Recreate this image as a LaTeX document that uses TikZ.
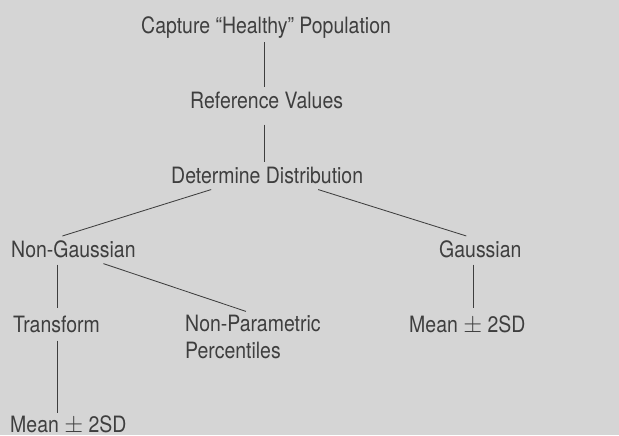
\documentclass[tikz,border=0pt]{standalone}
\usepackage{fontspec}
\setmainfont{TeX Gyre Heros}[FakeStretch=0.865]
\usepackage{xcolor}
\usepackage{tikz}
\usetikzlibrary{positioning,calc}
\definecolor{paper}{RGB}{213,213,213}
\definecolor{ink}{RGB}{62,62,62}
\tikzstyle{line}=[draw,ink,line width=0.6pt]
\tikzstyle{lbl}=[anchor=base west,inner sep=3pt,outer sep=0pt,text=ink,align=left]
\begin{document}
\begin{tikzpicture}[x=0.025cm,y=-0.025cm,font=\fontsize{16}{18.5}\selectfont]
\fill[paper] (0,0) rectangle (619,435);
\useasboundingbox (0,0) rectangle (619,435);
\node[lbl](capture) at (137,33) {Capture “Healthy” Population};
\node[lbl](refval) at (186,108) {Reference Values};
\node[lbl](determine) at (167,183) {Determine Distribution};
\node[lbl](nongauss) at (7,257) {Non-Gaussian};
\node[lbl](gauss) at (435,257) {Gaussian};
\node[lbl](transform) at (9,332) {Transform};
\node[lbl](nonparam) at (181,358) {Non-Parametric\\Percentiles};
\node[lbl](meanright) at (405,332) {Mean $\pm$ 2SD};
\node[lbl](meanleft) at (6,432) {Mean $\pm$ 2SD};
% vertical links
\draw [line] ($(capture.south)+(-2,0)$) coordinate (a) -- (a |- refval.north);
\draw [line] ($(refval.south)+(-2,12)$) coordinate (b) -- (b |- determine.north);
\draw [line] ($(nongauss.south)+(-16,3)$) coordinate (c) -- ($(c |- transform.north)+(0,-3)$);
\draw [line] ($(gauss.south)+(-7,3)$) coordinate (d) -- ($(d |- meanright.north)+(0,-3)$);
\draw [line] ($(transform.south -| c)+(0,4)$) -- ($(c |- meanleft.north)+(0,2)$);
% slanted links
\draw [line] ($(determine.south)+(-56,2)$) -- ($(nongauss.north)+(-11,0)$);
\draw [line] ($(determine.south)+(51,2)$) -- ($(gauss.north)+(-14,0)$);
\draw [line] ($(nongauss.south)+(30,2)$) -- ($(nonparam.north)+(-7,0)$);
\end{tikzpicture}
\end{document}
